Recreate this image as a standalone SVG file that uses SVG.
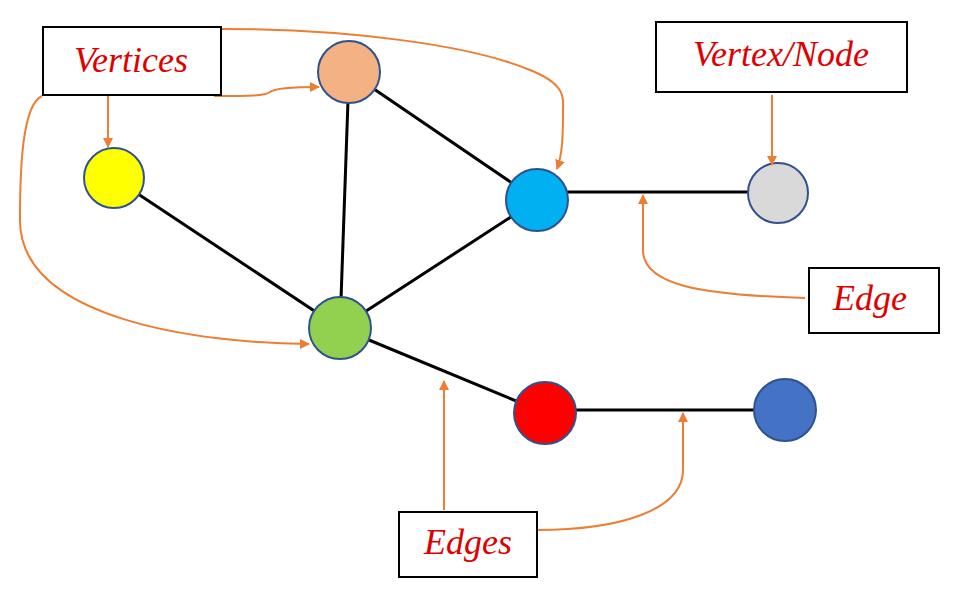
<svg xmlns="http://www.w3.org/2000/svg" width="958" height="591" viewBox="0 0 958 591">
<defs>
<marker id="ah" viewBox="0 0 10 10" refX="9" refY="5" markerWidth="5" markerHeight="5" orient="auto"><path d="M0,0L10,5L0,10z" fill="#ED7D31"/></marker>
<style>
.e{stroke:#000;stroke-width:3;fill:none}
.a{stroke:#ED7D31;stroke-width:2;fill:none;marker-end:url(#ah)}
.n{stroke:#2F528F;stroke-width:2}
.b{fill:#fff;stroke:#000;stroke-width:2}
.t{font-family:"Liberation Serif",serif;font-style:italic;font-size:36px;fill:#E00000;text-anchor:middle}
</style>
</defs>
<rect width="958" height="591" fill="#fff"/>
<g id="edges">
<line class="e" x1="114" y1="178" x2="340" y2="328"/>
<line class="e" x1="349" y1="72" x2="340" y2="328"/>
<line class="e" x1="349" y1="72" x2="537" y2="200"/>
<line class="e" x1="537" y1="200" x2="340" y2="328"/>
<line class="e" x1="537" y1="192" x2="778" y2="192"/>
<line class="e" x1="340" y1="328" x2="545" y2="413"/>
<line class="e" x1="545" y1="410" x2="785" y2="410"/>
</g>
<g id="nodes">
<circle id="yellow" class="n" cx="114" cy="178" r="30" fill="#FFFF00"/>
<circle id="peach" class="n" cx="349" cy="72" r="31" fill="#F4B183"/>
<circle id="blue" class="n" cx="537" cy="200" r="31" fill="#00B0F0"/>
<circle id="gray" class="n" cx="778" cy="193" r="30" fill="#D9D9D9"/>
<circle id="green" class="n" cx="340" cy="328" r="31" fill="#92D050"/>
<circle id="red" class="n" cx="545" cy="413" r="31" fill="#FF0000"/>
<circle id="darkblue" class="n" cx="785" cy="410" r="31" fill="#4472C4"/>
</g>
<g id="connectors">
<path class="a" d="M108,96 V147"/>
<path class="a" d="M214,96 C250,96 265,96 270,92 C275,88 300,87 319,87"/>
<path class="a" d="M221,29 C350,29 470,45 530,70 C568,85 563,100 563,110 C563,140 562,155 557,169"/>
<path class="a" d="M42,96 C22,105 20,170 20,220 C20,320 200,343 309,344"/>
<path class="a" d="M772,95 V165"/>
<path class="a" d="M805,298 C700,295 643,285 643,250 V195"/>
<path class="a" d="M444,510 V381"/>
<path class="a" d="M537,530 C620,530 683,510 683,470 V413"/>
</g>
<g id="labels">
<g id="box-vertices"><rect class="b" x="43" y="27" width="178" height="68"/><text class="t" x="131" y="72">Vertices</text></g>
<g id="box-vertexnode"><rect class="b" x="656" y="22" width="251" height="70"/><text class="t" x="781" y="66">Vertex/Node</text></g>
<g id="box-edge"><rect class="b" x="809" y="268" width="130" height="65"/><text class="t" x="870" y="310">Edge</text></g>
<g id="box-edges"><rect class="b" x="399" y="512" width="138" height="65"/><text class="t" x="468" y="554">Edges</text></g>
</g>
</svg>
